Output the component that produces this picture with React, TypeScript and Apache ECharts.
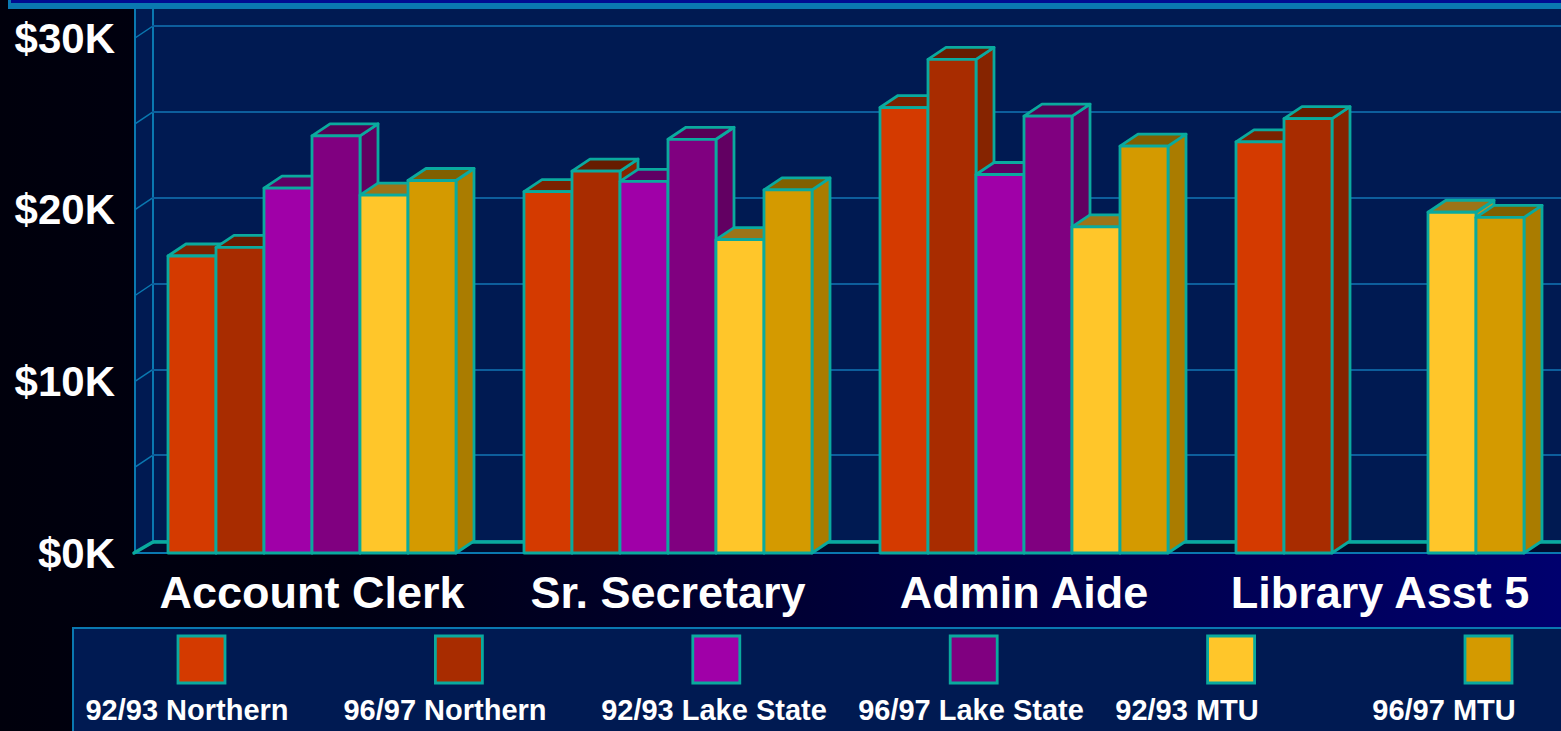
import React, { useEffect, useRef } from "react";
import * as echarts from "echarts";

// ---------- data ----------
const categories = ["Account Clerk", "Sr. Secretary", "Admin Aide", "Library Asst 5"];
const seriesNames = [
  "92/93 Northern",
  "96/97 Northern",
  "92/93 Lake State",
  "96/97 Lake State",
  "92/93 MTU",
  "96/97 MTU",
];
const northern9293 = [17300, 21050, 25950, 23950];
const northern9697 = [17800, 22250, 28750, 25300];
const lakeState9293 = [21250, 21650, 22050, null];
const lakeState9697 = [24300, 24100, 25450, null];
const mtu9293 = [20850, 18250, 19000, 19850];
const mtu9697 = [21700, 21150, 23700, 19550];
const seriesValues = [northern9293, northern9697, lakeState9293, lakeState9697, mtu9293, mtu9697];

const yMin = 0;
const yMax = 30000;
const yLabelStep = 10000;
const yGridStep = 5000;

// ---------- style ----------
const frontColors = ["#d43a00", "#a82c00", "#a000a8", "#800080", "#ffc62a", "#d49a00"];
const topColors = ["#7a2200", "#661c00", "#600064", "#560056", "#9c7418", "#806000"];
const sideColors = ["#a02a00", "#862400", "#7a0082", "#620062", "#c09020", "#aa7c00"];
const EDGE = "#0aaa9e";
const LINE_BLUE = "#0a78b0";
const GRID_BLUE = "#0d5e9c";
const PLOT_BG = "#001a52";
const FONT = "Liberation Sans, Arial, Helvetica, sans-serif";

const DX = 18;
const DY = -12;
const BAR_SHARE = 48 / 356;

// layout (pixels)
const FRONT_LEFT = 134;
const FRONT_TOP = 38;
const FRONT_BOTTOM_Y = 553;
const BACK_TOP = FRONT_TOP + DY;
const BACK_BOTTOM_Y = FRONT_BOTTOM_Y + DY;
const W = 1561;
const H = 731;
const TOP_STRIP = 9;

const legendSwatchX0 = 178;
const legendSwatchStep = 257.4;
const legendLabelX = [187, 445, 714, 971, 1187, 1444];

function makeRender(si: number) {
  return (params: any, api: any) => {
    const ci = api.value(0);
    const v = api.value(1);
    if (v == null || isNaN(v)) return null;
    const top = api.coord([ci, v]);
    const base = api.coord([ci, 0]);
    const band = api.size([1, 0])[0];
    const bw = band * BAR_SHARE;
    const n = seriesNames.length;
    const x0 = top[0] - (n / 2) * bw + si * bw;
    const x1 = x0 + bw;
    const yt = top[1];
    const yb = base[1];
    const st = { stroke: EDGE, lineWidth: 2.8, lineJoin: "round" };
    return {
      type: "group",
      children: [
        {
          type: "polygon",
          shape: { points: [[x1, yb], [x1, yt], [x1 + DX, yt + DY], [x1 + DX, yb + DY]] },
          style: { fill: sideColors[si], ...st },
        },
        {
          type: "polygon",
          shape: { points: [[x0, yt], [x0 + DX, yt + DY], [x1 + DX, yt + DY], [x1, yt]] },
          style: { fill: topColors[si], ...st },
        },
        {
          type: "rect",
          shape: { x: x0, y: yt, width: bw, height: yb - yt },
          style: { fill: frontColors[si], ...st },
        },
      ],
    };
  };
}

function buildGraphics() {
  const els: any[] = [];
  els.push({
    type: "rect",
    z: -20,
    silent: true,
    shape: { x: 0, y: 0, width: W, height: H },
    style: {
      fill: new echarts.graphic.LinearGradient(0, 0, 1, 0, [
        { offset: 0, color: "#00000c" },
        { offset: 0.22, color: "#000012" },
        { offset: 1, color: "#00006e" },
      ]),
    },
  });
  els.push({
    type: "rect",
    z: -10,
    silent: true,
    shape: { x: FRONT_LEFT + 1, y: TOP_STRIP, width: W, height: FRONT_BOTTOM_Y - TOP_STRIP },
    style: { fill: PLOT_BG },
  });
  els.push({
    type: "polygon",
    z: -9,
    silent: true,
    shape: {
      points: [
        [FRONT_LEFT + 1, FRONT_BOTTOM_Y],
        [FRONT_LEFT + 1 + DX, BACK_BOTTOM_Y],
        [W + 5, BACK_BOTTOM_Y],
        [W + 5, FRONT_BOTTOM_Y],
      ],
    },
    style: { fill: "#000c2e" },
  });
  els.push({
    type: "line",
    z: -8,
    silent: true,
    shape: { x1: FRONT_LEFT + 1, y1: TOP_STRIP, x2: FRONT_LEFT + 1, y2: FRONT_BOTTOM_Y },
    style: { stroke: LINE_BLUE, lineWidth: 2 },
  });
  els.push({
    type: "line",
    z: -8,
    silent: true,
    shape: { x1: FRONT_LEFT + 1 + DX, y1: TOP_STRIP, x2: FRONT_LEFT + 1 + DX, y2: BACK_BOTTOM_Y },
    style: { stroke: LINE_BLUE, lineWidth: 2 },
  });
  const hgt = FRONT_BOTTOM_Y - FRONT_TOP;
  for (let v = yMin + yGridStep; v <= yMax; v += yGridStep) {
    const yf = FRONT_BOTTOM_Y - ((v - yMin) / (yMax - yMin)) * hgt;
    els.push({
      type: "line",
      z: -8,
      silent: true,
      shape: { x1: FRONT_LEFT + 1, y1: yf, x2: FRONT_LEFT + 1 + DX, y2: yf + DY },
      style: { stroke: LINE_BLUE, lineWidth: 1.5 },
    });
  }
  els.push({
    type: "line",
    z: 1,
    silent: true,
    shape: { x1: FRONT_LEFT + 1, y1: FRONT_BOTTOM_Y, x2: W + 5, y2: FRONT_BOTTOM_Y },
    style: { stroke: LINE_BLUE, lineWidth: 2 },
  });
  els.push({
    type: "line",
    z: 1,
    silent: true,
    shape: { x1: FRONT_LEFT + 1 + DX, y1: BACK_BOTTOM_Y + 1, x2: W + 5, y2: BACK_BOTTOM_Y + 1 },
    style: { stroke: EDGE, lineWidth: 3.5 },
  });
  els.push({
    type: "line",
    z: 1,
    silent: true,
    shape: { x1: FRONT_LEFT, y1: FRONT_BOTTOM_Y, x2: FRONT_LEFT + 1 + DX, y2: BACK_BOTTOM_Y + 1 },
    style: { stroke: EDGE, lineWidth: 3.5, lineCap: "round" },
  });
  els.push({
    type: "rect",
    z: 10,
    silent: true,
    shape: { x: 8, y: -30, width: W + 20, height: 30 + TOP_STRIP },
    style: { fill: "#0a78b0" },
  });
  els.push({
    type: "rect",
    z: 11,
    silent: true,
    shape: { x: 11, y: -30, width: W + 20, height: 33 },
    style: { fill: "#000c90" },
  });
  els.push({
    type: "rect",
    z: 10,
    silent: true,
    shape: { x: 73, y: 628, width: W, height: 150 },
    style: { fill: PLOT_BG, stroke: LINE_BLUE, lineWidth: 2 },
  });
  seriesNames.forEach((name, i) => {
    els.push({
      type: "rect",
      z: 11,
      silent: true,
      shape: { x: legendSwatchX0 + i * legendSwatchStep, y: 636, width: 47, height: 47 },
      style: { fill: frontColors[i], stroke: EDGE, lineWidth: 2.8 },
    });
    els.push({
      type: "text",
      z: 11,
      silent: true,
      style: {
        text: name,
        x: legendLabelX[i],
        y: 710,
        fill: "#ffffff",
        font: `bold 29px ${FONT}`,
        textAlign: "center",
        align: "center",
        textVerticalAlign: "middle",
        verticalAlign: "middle",
      },
    });
  });
  return els;
}

export default function App() {
  const ref = useRef<HTMLDivElement>(null);
  useEffect(() => {
    if (!ref.current) return;
    const chart = echarts.init(ref.current, undefined, { renderer: "svg" });
    const series: any[] = seriesNames.map((name, si) => ({
      name,
      type: "custom",
      xAxisIndex: 0,
      yAxisIndex: 0,
      renderItem: makeRender(si),
      encode: { x: 0, y: 1 },
      data: seriesValues[si]
        .map((v, ci) => (v == null ? null : [ci, v]))
        .filter((d) => d !== null),
      z: 2,
    }));
    chart.setOption({
      animation: false,
      backgroundColor: "transparent",
      grid: [
        { left: FRONT_LEFT, right: 3, top: FRONT_TOP, bottom: H - FRONT_BOTTOM_Y },
        { left: FRONT_LEFT + DX, right: 0, top: BACK_TOP, bottom: H - BACK_BOTTOM_Y },
      ],
      xAxis: [
        {
          type: "category",
          gridIndex: 0,
          data: categories,
          axisLine: { show: false },
          axisTick: { show: false },
          splitLine: { show: false },
          axisLabel: {
            interval: 0,
            color: "#ffffff",
            fontSize: 45,
            fontWeight: "bold",
            fontFamily: FONT,
            margin: 17,
          },
        },
        { type: "category", gridIndex: 1, data: categories, show: false },
      ],
      yAxis: [
        {
          type: "value",
          gridIndex: 0,
          min: yMin,
          max: yMax,
          interval: yLabelStep,
          axisLine: { show: false },
          axisTick: { show: false },
          splitLine: { show: false },
          axisLabel: {
            formatter: (v: number) => `$${v / 1000}K`,
            color: "#ffffff",
            fontSize: 42,
            fontWeight: "bold",
            fontFamily: FONT,
            margin: 19,
            padding: [9, 0, 0, 0],
          },
        },
        {
          type: "value",
          gridIndex: 1,
          min: yMin,
          max: yMax,
          interval: yGridStep,
          axisLine: { show: false },
          axisTick: { show: false },
          axisLabel: { show: false },
          splitLine: { show: true, lineStyle: { color: GRID_BLUE, width: 2 } },
        },
      ],
      graphic: { elements: buildGraphics() },
      series,
    });
    return () => chart.dispose();
  }, []);
  return (
    <div
      ref={ref}
      style={{ position: "absolute", left: 0, top: 0, width: W, height: H }}
    />
  );
}
